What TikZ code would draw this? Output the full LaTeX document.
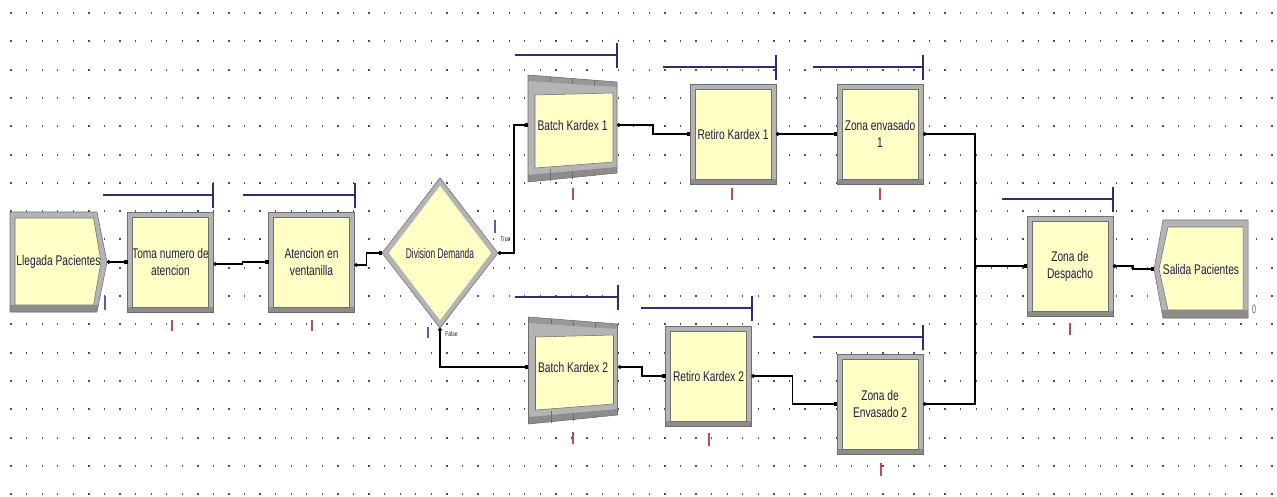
\documentclass[tikz,border=0pt]{standalone}
\usepackage{fontspec}
\newfontfamily\arenafont[FakeStretch=0.73]{Liberation Sans}
\newfontfamily\narrowfont[FakeStretch=0.6]{Liberation Sans}
\newcommand\modfont{\arenafont\fontsize{10.5pt}{12.6pt}\selectfont}
\newcommand\tinyfont{\arenafont\fontsize{5.2pt}{6pt}\selectfont}
\usetikzlibrary{shapes.geometric,arrows.meta,calc}

\definecolor{boxfill}{HTML}{FFFFC6}
\definecolor{frame}{HTML}{B4B4B4}
\definecolor{framedark}{HTML}{8C8C8C}
\definecolor{frameline}{HTML}{6E6E6E}
\definecolor{queue}{HTML}{2E2E72}
\definecolor{labeltext}{HTML}{1E1E46}
\definecolor{redtick}{HTML}{B4505A}
\definecolor{bluetick}{HTML}{5060B4}
\definecolor{griddot}{HTML}{505050}

% body of a Batch module, drawn around the origin of the current scope
\newcommand\batchbody{%
  \fill[frame] (-44.5,-50) -- (44.5,-43) -- (44.5,48) -- (-44.5,57) -- cycle;
  \fill[framedark!70!frame] (-44.5,-50) -- (44.5,-43) -- (44.5,-38) -- (-44.5,-44) -- cycle;
  \fill[framedark] (-44.5,50) -- (44.5,42) -- (44.5,48) -- (-44.5,57) -- cycle;
  \foreach \sx in {-22,0,22}{\draw[outline] (\sx,{-46.5+\sx*0.0787}) -- (\sx,{-41+\sx*0.0787});
                             \draw[outline] (\sx,{46+\sx*0.09}) -- (\sx,{53.5-\sx*0.1});}
  \fill[boxfill] (-37.5,-30) -- (40.5,-32) -- (40.5,37) -- (-37.5,43) -- cycle;
  \draw[outline] (-44.5,-50) -- (44.5,-43) -- (44.5,48) -- (-44.5,57) -- cycle;
  \draw[outline] (-37.5,-30) -- (40.5,-32) -- (40.5,37) -- (-37.5,43) -- cycle;
}

\tikzset{
  module/.style={rectangle, draw=frame, line width=3.75pt, fill=boxfill,
    minimum width=60.75pt, minimum height=71.25pt, inner sep=0pt,
    align=center, font=\modfont, text=labeltext},
  decision/.style={diamond, draw=frame, line width=3.75pt, fill=boxfill,
    minimum width=83.25pt, minimum height=108.75pt, inner sep=0pt,
    font={\narrowfont\fontsize{10.5pt}{12pt}\selectfont}, text=labeltext},
  plainlabel/.style={inner sep=0pt, outer sep=0pt, align=center,
    font=\modfont, text=labeltext},
  branchlabel/.style={font=\tinyfont, text=labeltext, anchor=west, inner sep=0pt},
  conn/.style={draw=black, line width=1.3pt,
    arrows={Circle[length=2.6pt]-Square[length=2.6pt,width=3.4pt]}},
  queueline/.style={draw=queue, line width=1.1pt},
  redmark/.style={draw=redtick, line width=0.9pt},
  bluemark/.style={draw=bluetick, line width=0.9pt},
  outline/.style={draw=frameline, line width=0.4pt},
}

\begin{document}
\begin{tikzpicture}[x=0.75pt,y=-0.75pt]
\useasboundingbox (0,0) rectangle (1277,496);
\fill[white] (0,0) rectangle (1277,496);

% dotted snap grid
\foreach \r in {0,...,17}{
  \foreach \c in {0,...,81}{
    \fill[griddot] ({10.4+15.568*\c},{12+28.3*\r}) rectangle ++(1.3,2);
  }
}

% ---------- Create module ----------
\coordinate (llegadaC) at (58.5,262);
\begin{scope}[shift={(llegadaC)}]
  \fill[frame] (-48.5,-50) -- (38.5,-50) -- (48.5,0) -- (38.5,50) -- (-48.5,50) -- cycle;
  \fill[framedark] (-48.5,43) -- (39.9,43) -- (38.5,50) -- (-48.5,50) -- cycle;
  \fill[boxfill] (-43.5,-44) -- (35,-44) -- (42.5,0) -- (35,43) -- (-43.5,43) -- cycle;
  \draw[outline] (-48.5,-50) -- (38.5,-50) -- (48.5,0) -- (38.5,50) -- (-48.5,50) -- cycle;
  \draw[outline] (-43.5,-44) -- (35,-44) -- (42.5,0) -- (35,43) -- (-43.5,43) -- cycle;
\end{scope}
\node[plainlabel, minimum width=72.75pt, minimum height=75pt] (llegada) at (llegadaC) {Llegada Pacientes};

% ---------- Process modules ----------
\node[module] (toma)     at (170.5,262) {Toma numero de\\atencion};
\node[module] (atencion) at (311.5,262) {Atencion en\\ventanilla};
\node[module] (retiro1)  at (733,134)   {Retiro Kardex 1};
\node[module] (zona1)    at (880,134)   {Zona envasado\\1};
\node[module] (retiro2)  at (708.5,376) {Retiro Kardex 2};
\node[module] (zona2)    at (880,404)   {Zona de\\Envasado 2};
\node[module] (despacho) at (1070,266)  {Zona de\\Despacho};

\foreach \n in {toma,atencion,retiro1,zona1,retiro2,zona2,despacho}{
  \draw[framedark, line width=3.75pt] ([yshift=1.875pt]\n.south west) -- ([yshift=1.875pt]\n.south east);
  \draw[outline] (\n.south west) rectangle (\n.north east);
  \draw[outline] ([shift={(3.75pt,3.75pt)}]\n.south west) rectangle ([shift={(-3.75pt,-3.75pt)}]\n.north east);
}

% ---------- Decide module ----------
\node[decision] (div) at (440,253) {Division Demanda};
\draw[outline] (div.north) -- (div.east) -- (div.south) -- (div.west) -- cycle;
\node[branchlabel] (truelbl) at (500,239) {True};
\node[branchlabel] (falselbl) at (445,334) {False};

% ---------- Batch modules ----------
\coordinate (batch1C) at (572.5,125);
\begin{scope}[shift={(batch1C)}]\batchbody\end{scope}
\node[plainlabel, minimum width=66.75pt, minimum height=60pt] (batch1) at (batch1C) {Batch Kardex 1};

\coordinate (batch2C) at (573,367);
\begin{scope}[shift={(batch2C)}]\batchbody\end{scope}
\node[plainlabel, minimum width=67.5pt, minimum height=60pt] (batch2) at (batch2C) {Batch Kardex 2};

% ---------- Dispose module ----------
\coordinate (salidaC) at (1201,269);
\begin{scope}[shift={(salidaC)}]
  \fill[frame] (-38,-49) -- (47,-49) -- (47,49) -- (-38,49) -- (-47,0) -- cycle;
  \fill[framedark] (-39.5,41) -- (47,41) -- (47,49) -- (-38,49) -- cycle;
  \fill[boxfill] (-33,-42) -- (42,-42) -- (42,41) -- (-33,41) -- (-42,0) -- cycle;
  \draw[outline] (-38,-49) -- (47,-49) -- (47,49) -- (-38,49) -- (-47,0) -- cycle;
  \draw[outline] (-33,-42) -- (42,-42) -- (42,41) -- (-33,41) -- (-42,0) -- cycle;
\end{scope}
\node[plainlabel, minimum width=70.5pt, minimum height=73.5pt] (salida) at (salidaC) {Salida Pacientes};

% ---------- Queues ----------
\foreach \xa/\xb/\yq in {103/213/195, 243/355/195, 515/617/55, 663/776/67, 813/923/67,
                         515/618/297, 641/752/308, 813/923/337, 1002/1113/199}{
  \draw[queueline] (\xa,\yq) -- (\xb,\yq);
  \draw[queueline] (\xb,\yq-12.5) -- (\xb,\yq+12.5);
}

% ---------- Connectors ----------
\draw[conn] (llegada.east) -- (toma.west);
\draw[conn] ([yshift=-1.5pt]toma.east) -- ++(29,0) |- (atencion.west);
\draw[conn] ([yshift=-2.25pt]atencion.east) -- ++(12,0) |- (div.west);
\draw[conn] (div.east) -- ++(16,0) |- (batch1.west);
\draw[conn] (div.south) |- (batch2.west);
\draw[conn] (batch1.east) -- ++(36,0) |- (retiro1.west);
\draw[conn] (retiro1.east) -- (zona1.west);
\draw[conn] (zona1.east) -- ++(52,0) |- (despacho.west);
\draw[conn] (batch2.east) -- ++(24,0) |- (retiro2.west);
\draw[conn] (retiro2.east) -- ++(41,0) |- (zona2.west);
\draw[conn] (zona2.east) -- ++(52,0) |- (despacho.west);
\draw[conn] (despacho.east) -- ++(20,0) |- (salida.west);

% ---------- Counters ----------
\foreach \xr/\ya/\yb in {172/320/331, 312/320/331, 573/188/200, 732/188/200, 880/188/200,
                         573/432/444, 709/433/446, 881/463/476, 1070/323/335}{
  \draw[redmark] (\xr,\ya) -- (\xr,\yb);
}
\draw[bluemark] (105,296) -- (105,310);
\draw[bluemark] (495,220) -- (495,233);
\draw[bluemark] (428,327) -- (428,338);
\node[font={\narrowfont\fontsize{9pt}{10pt}\selectfont}, text=bluetick, inner sep=0pt] (salidacount) at (1254,309) {0};

\end{tikzpicture}
\end{document}
